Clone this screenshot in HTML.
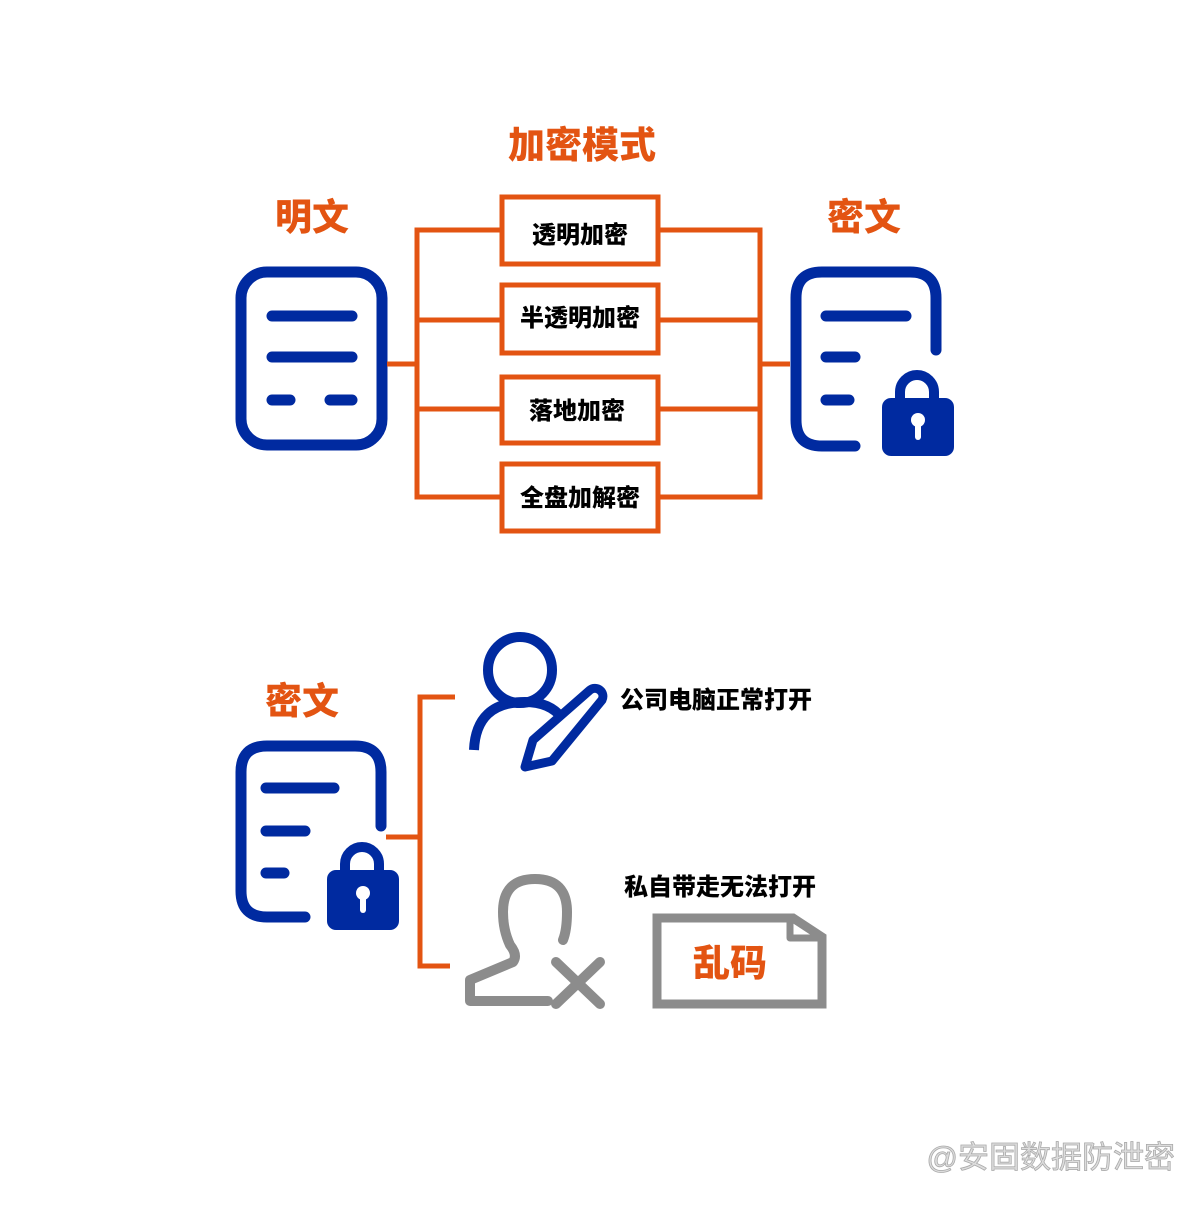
<!DOCTYPE html>
<html><head><meta charset="utf-8"><style>
html,body{margin:0;padding:0;background:#fff;}
svg text{font-family:"Liberation Sans","Noto Sans CJK SC",sans-serif;font-weight:900;}
</style></head><body>
<svg width="1200" height="1200" viewBox="0 0 1200 1200" xmlns="http://www.w3.org/2000/svg">
<rect width="1200" height="1200" fill="#fff"/>
<g fill="#E35412" text-anchor="middle">
<text x="582" y="158" font-size="37">加密模式</text>
<text x="312" y="230" font-size="37">明文</text>
<text x="864" y="230" font-size="37">密文</text>
<text x="302" y="714" font-size="37">密文</text>
</g>
<g fill="none" stroke="#002AA0" stroke-width="11" stroke-linecap="round">
<rect x="241" y="272" width="141" height="173" rx="26"/>
<line x1="272" y1="316" x2="352" y2="316"/>
<line x1="272" y1="357" x2="352" y2="357"/>
<line x1="272" y1="400" x2="290" y2="400"/>
<line x1="330" y1="400" x2="352" y2="400"/>
</g>
<g fill="none" stroke="#E35412" stroke-width="5">
<line x1="387" y1="364" x2="417" y2="364"/>
<polyline points="501,230 417,230 417,497 501,497"/>
<line x1="417" y1="320" x2="501" y2="320"/>
<line x1="417" y1="409" x2="501" y2="409"/>
<polyline points="658,230 760,230 760,497 658,497"/>
<line x1="658" y1="320" x2="760" y2="320"/>
<line x1="658" y1="409" x2="760" y2="409"/>
<line x1="760" y1="364" x2="790" y2="364"/>
<rect x="502" y="197" width="156" height="67"/>
<rect x="502" y="285" width="156" height="68"/>
<rect x="502" y="377" width="156" height="66"/>
<rect x="502" y="464" width="156" height="67"/>
</g>
<g fill="#000" font-size="24" text-anchor="middle">
<text x="580" y="243">透明加密</text>
<text x="580" y="326">半透明加密</text>
<text x="577" y="419">落地加密</text>
<text x="580" y="506">全盘加解密</text>
</g>
<g fill="none" stroke="#002AA0" stroke-width="11" stroke-linecap="round">
<path d="M936,350 V298 Q936,272 910,272 H822 Q796,272 796,298 V420 Q796,446 822,446 H855"/>
<line x1="826" y1="316" x2="906" y2="316"/>
<line x1="826" y1="357" x2="855" y2="357"/>
<line x1="826" y1="400" x2="849" y2="400"/>
<path d="M900,400 V392 a17,17 0 0 1 34,0 V400" stroke-width="10"/>
</g>
<rect x="882" y="398" width="72" height="58" rx="9" fill="#002AA0"/>
<circle cx="918" cy="420" r="7" fill="#fff"/>
<rect x="915" y="420" width="6" height="20" rx="3" fill="#fff"/>
<g fill="none" stroke="#002AA0" stroke-width="11" stroke-linecap="round">
<path d="M381,826 V772 Q381,746 355,746 H267 Q241,746 241,772 V891 Q241,917 267,917 H305"/>
<line x1="266" y1="788" x2="334" y2="788"/>
<line x1="266" y1="831" x2="305" y2="831"/>
<line x1="266" y1="873" x2="284" y2="873"/>
<path d="M345,872 V864 a17,17 0 0 1 34,0 V872" stroke-width="10"/>
</g>
<rect x="327" y="870" width="72" height="60" rx="9" fill="#002AA0"/>
<circle cx="363" cy="893" r="7" fill="#fff"/>
<rect x="360" y="893" width="6" height="20" rx="3" fill="#fff"/>
<g fill="none" stroke="#E35412" stroke-width="5">
<line x1="386" y1="837" x2="418" y2="837"/>
<polyline points="455,697 420,697 420,966 450,966"/>
</g>
<g fill="none" stroke="#002AA0" stroke-width="10">
<ellipse cx="520" cy="670" rx="32" ry="33"/>
<path d="M474,750 Q476,702 525,702 Q550,702 562,718"/>
<path d="M590,690 a8,8 0 0 1 12,10 L552,761 L525,767 L533,740 Z" stroke-width="9" stroke-linejoin="round"/>
</g>
<g fill="#000" font-size="24">
<text x="620" y="708">公司电脑正常打开</text>
<text x="624" y="895">私自带走无法打开</text>
</g>
<g fill="none" stroke="#8C8C8C" stroke-width="10" stroke-linecap="round" stroke-linejoin="round">
<path d="M548,1001 H470 V980 L513,962 Q518,955 510,945 Q503,930 503,912 Q503,879 535,879 Q567,879 567,912 Q567,930 563,940"/>
<line x1="556" y1="962" x2="600" y2="1004"/>
<line x1="600" y1="962" x2="556" y2="1004"/>
<path d="M657,1004 V918 H793 L822,937 V1004 Z" stroke-width="9" stroke-linejoin="miter" stroke-linecap="butt"/>
<path d="M790,918 V938 H822" stroke-width="7" stroke-linecap="butt"/>
</g>
<text x="730" y="976" font-size="37" fill="#E35412" text-anchor="middle">乱码</text>
<text x="1175" y="1168" font-size="31" fill="#ddd" stroke="#aaa" stroke-width="0.8" text-anchor="end" style="font-weight:400">@安固数据防泄密</text>
</svg>
</body></html>
